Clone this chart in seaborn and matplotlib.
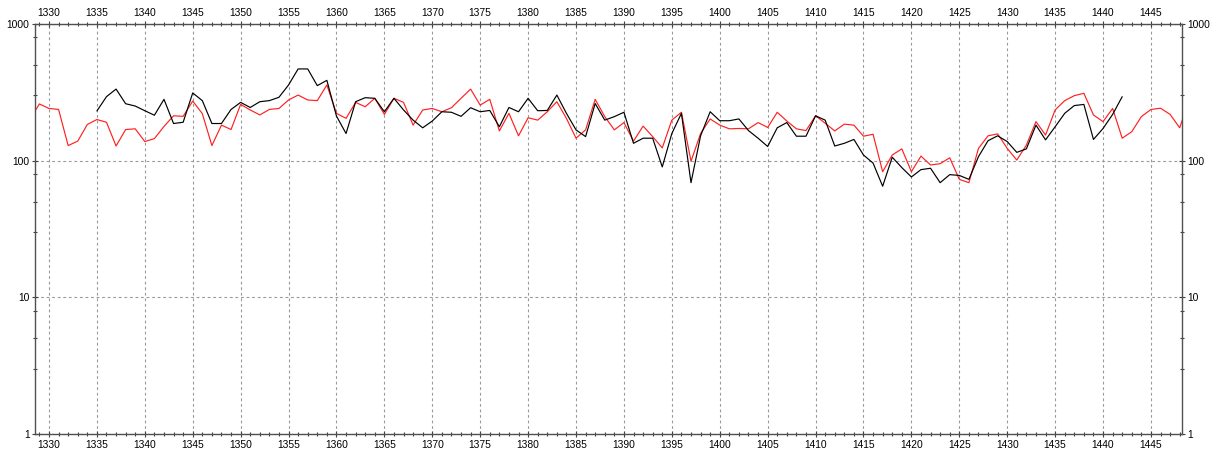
import matplotlib
matplotlib.use('Agg')
import numpy as np
import pandas as pd
import seaborn as sns
import matplotlib.pyplot as plt
from matplotlib.ticker import LogLocator, MultipleLocator, FuncFormatter, NullFormatter

# red series, one value per year from 1328 to 1449
RED_START = 1328
red_values = [
    200, 260, 241, 237, 129, 139, 184, 200, 191, 128,
    169, 171, 138, 145, 178, 213, 211, 273, 221, 129,
    182, 169, 258, 235, 216, 237, 241, 278, 302, 278,
    275, 358, 222, 204, 267, 248, 286, 218, 286, 267,
    182, 235, 241, 228, 244, 286, 334, 255, 281, 165,
    222, 152, 206, 198, 228, 270, 204, 146, 168, 281,
    210, 168, 190, 139, 179, 150, 124, 198, 226, 99,
    158, 202, 182, 171, 172, 171, 190, 175, 226, 195,
    171, 166, 213, 188, 165, 185, 182, 151, 156, 83,
    110, 122, 83, 108, 93, 95, 105, 73, 69, 123,
    152, 157, 123, 101, 130, 193, 154, 235, 275, 299,
    311, 216, 193, 241, 146, 163, 210, 237, 242, 218,
    174, 280,
]

# black series, one value per year from 1335 to 1442
BLACK_START = 1335
black_values = [
    231, 294, 334, 261, 251, 232, 215, 281, 187, 191,
    313, 275, 187, 187, 237, 267, 245, 270, 275, 291,
    358, 469, 469, 354, 387, 212, 158, 270, 289, 286,
    228, 286, 235, 198, 174, 195, 228, 226, 211, 244,
    228, 233, 177, 245, 228, 286, 232, 233, 302, 222,
    168, 150, 262, 198, 210, 226, 134, 146, 146, 90,
    158, 222, 69, 152, 228, 196, 196, 202, 166, 146,
    127, 174, 190, 151, 151, 213, 198, 128, 134, 143,
    110, 96, 65, 106, 89, 76, 86, 88, 69, 79,
    78, 73, 107, 140, 152, 138, 115, 122, 182, 142,
    177, 222, 253, 258, 143, 172, 218, 294,
]

red_years = list(range(RED_START, RED_START + len(red_values)))
black_years = list(range(BLACK_START, BLACK_START + len(black_values)))

red_df = pd.DataFrame({'year': red_years, 'value': red_values})
black_df = pd.DataFrame({'year': black_years, 'value': black_values})

sns.set_style('white')
plt.rcParams['font.family'] = ['Liberation Sans', 'DejaVu Sans']

W, H = 1211, 450
fig = plt.figure(figsize=(W / 100, H / 100), dpi=100)
ax = fig.add_axes([35 / W, 1 - 434 / H, (1182 - 35) / W, (434 - 24) / H])

sns.lineplot(data=red_df, x='year', y='value', color='#ff2020', lw=0.85,
             estimator=None, ax=ax)
sns.lineplot(data=black_df, x='year', y='value', color='black', lw=0.85,
             estimator=None, ax=ax)

ax.set_yscale('log')
ax.set_ylim(1, 1000)
ax.set_xlim(1328.54, 1448.24)

ax.xaxis.set_major_locator(MultipleLocator(5))
ax.xaxis.set_minor_locator(MultipleLocator(1))
ax.yaxis.set_major_locator(LogLocator(base=10))
ax.yaxis.set_minor_locator(LogLocator(base=10, subs=(3, 5, 8)))
ax.yaxis.set_major_formatter(FuncFormatter(lambda v, p: f'{v:g}'))
ax.yaxis.set_minor_formatter(NullFormatter())

ax.grid(True, which='major', linestyle=(0, (2.5, 2.5)), color='#9a9a9a', lw=0.8)

ax.tick_params(axis='both', which='both', direction='inout', colors='#404040',
               labelcolor='black', labelsize=7.4, pad=1.5)
ax.tick_params(axis='both', which='major', length=5, width=0.8)
ax.tick_params(axis='both', which='minor', length=3, width=0.8)
ax.tick_params(axis='x', which='both', top=True, bottom=True,
               labeltop=True, labelbottom=True)
ax.tick_params(axis='y', which='both', left=True, right=True,
               labelleft=True, labelright=True)

for s in ax.spines.values():
    s.set_color('#505050')
    s.set_linewidth(1.0)

ax.set_xlabel('')
ax.set_ylabel('')

fig.savefig('out.png', dpi=100)
